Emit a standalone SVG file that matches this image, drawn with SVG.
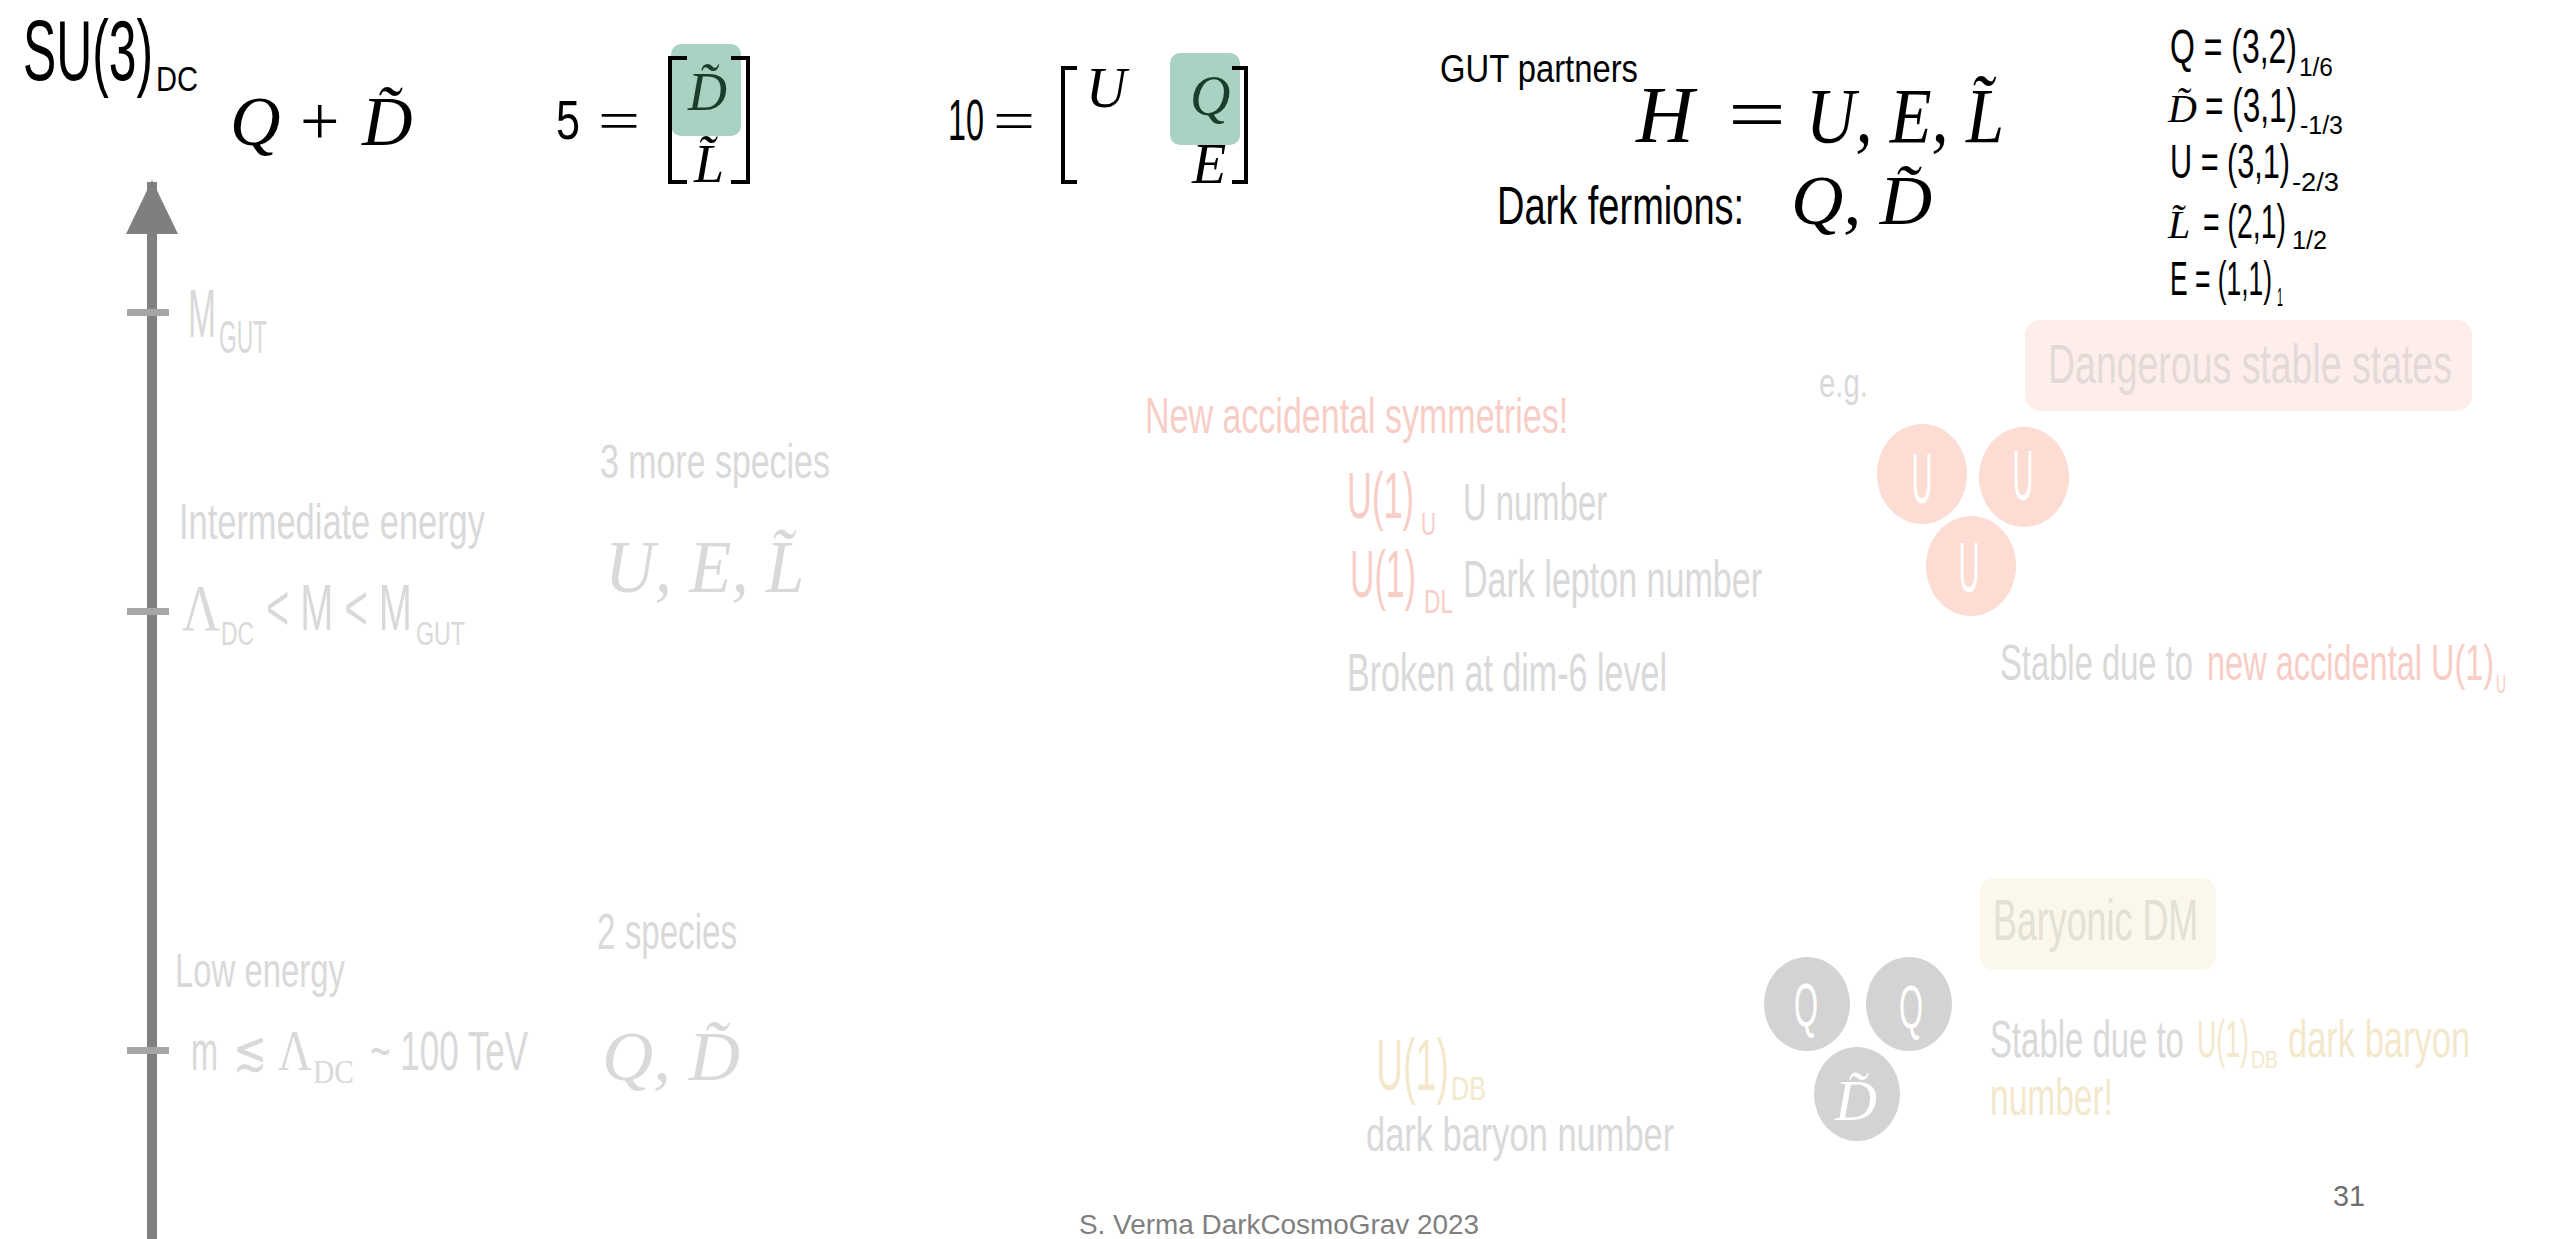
<svg xmlns="http://www.w3.org/2000/svg" width="2560" height="1239" viewBox="0 0 2560 1239">
<style>
.ag{font-family:"Liberation Sans","DejaVu Sans",sans-serif;}
.mi{font-family:"Liberation Serif","DejaVu Serif",serif;font-style:italic;}
.mu{font-family:"Liberation Serif","DejaVu Serif",serif;}
.blk{fill:#000}
.fade{fill:#d9d9d9}
.pink{fill:#f7cdc6}
.cream{fill:#f3e8cb}
.dg{fill:#1b3d2e}
.gbox{fill:#a9d2c3}
.brk{fill:none;stroke:#000;stroke-width:4}
.tick{fill:#a6a6a6}
.pc{fill:#fddcd4}
.gc{fill:#d3d3d3}
.wt{fill:#fff}
</style>
<defs>
<marker id="ah" markerUnits="userSpaceOnUse" markerWidth="54" markerHeight="54" refX="52" refY="26" orient="auto" viewBox="0 0 54 52">
<polygon points="0,0 54,26 0,52" fill="#7f7f7f"/>
</marker>
</defs>
<rect width="2560" height="1239" fill="#fff"/>

<g id="connectors">
<line x1="152" y1="1239" x2="152" y2="182" stroke="#7f7f7f" stroke-width="10" marker-end="url(#ah)"/>
</g>

<g id="title">
<text class="ag blk" transform="translate(23,80) scale(0.579,1)" font-size="86" textLength="224.5" lengthAdjust="spacingAndGlyphs">SU(3)</text>
<text class="ag blk" transform="translate(156,91) scale(0.808,1)" font-size="36" textLength="52" lengthAdjust="spacingAndGlyphs">DC</text>
</g>

<g id="q-plus-d">
<text class="mi blk" x="230" y="145" font-size="70">Q</text>
<text class="mu blk" x="300" y="145" font-size="70">+</text>
<text class="mi blk" x="362" y="145" font-size="70">D&#x303;</text>
</g>

<g id="five-plet">
<text class="ag blk" transform="translate(556,139) scale(0.772,1)" font-size="56" textLength="31.1" lengthAdjust="spacingAndGlyphs">5</text>
<text class="mu blk" transform="translate(598,139) scale(1.38,1)" font-size="54" textLength="30.5" lengthAdjust="spacingAndGlyphs">=</text>
<rect class="gbox" x="671" y="44" width="70" height="92" rx="10"/>
<path class="brk" d="M687,58 H670 V182 H687"/>
<path class="brk" d="M731,58 H748 V182 H731"/>
<text class="mi dg" x="688" y="110" font-size="54">D&#x303;</text>
<text class="mi blk" x="694" y="182" font-size="54">L&#x303;</text>
</g>

<g id="ten-plet">
<text class="ag blk" transform="translate(948,140) scale(0.558,1)" font-size="58" textLength="64.5" lengthAdjust="spacingAndGlyphs">10</text>
<text class="mu blk" transform="translate(993,140) scale(1.33,1)" font-size="56" textLength="31.6" lengthAdjust="spacingAndGlyphs">=</text>
<rect class="gbox" x="1170" y="53" width="70" height="92" rx="10"/>
<path class="brk" d="M1077,68 H1063 V182 H1077"/>
<path class="brk" d="M1232,68 H1246 V182 H1232"/>
<text class="mi blk" x="1086" y="107" font-size="56">U</text>
<text class="mi dg" x="1190" y="115" font-size="56">Q</text>
<text class="mi blk" x="1192" y="183" font-size="56">E</text>
</g>

<g id="gut-partners">
<text class="ag blk" transform="translate(1440,82) scale(0.838,1)" font-size="39" textLength="236.2" lengthAdjust="spacingAndGlyphs">GUT partners</text>
<text class="mi blk" x="1636" y="142" font-size="80">H</text>
<text class="mu blk" transform="translate(1728,140) scale(1.35,1)" font-size="76" textLength="42.9" lengthAdjust="spacingAndGlyphs">=</text>
<text class="mi blk" transform="translate(1806,142) scale(0.88,1)" font-size="78" textLength="225" lengthAdjust="spacingAndGlyphs">U, E, L&#x303;</text>
</g>

<g id="dark-fermions">
<text class="ag blk" transform="translate(1497,224) scale(0.717,1)" font-size="53" textLength="344.6" lengthAdjust="spacingAndGlyphs">Dark fermions:</text>
<text class="mi blk" x="1791" y="224" font-size="70" textLength="141" lengthAdjust="spacingAndGlyphs">Q, D&#x303;</text>
</g>

<g id="charges">
<text class="ag blk" transform="translate(2170,63) scale(0.652,1)" font-size="49" textLength="194.7" lengthAdjust="spacingAndGlyphs">Q = (3,2)</text>
<text class="ag blk" transform="translate(2299,76) scale(0.941,1)" font-size="26" textLength="36.1" lengthAdjust="spacingAndGlyphs">1/6</text>
<text class="mi blk" x="2168" y="122" font-size="40">D&#x303;</text>
<text class="ag blk" transform="translate(2205,122) scale(0.643,1)" font-size="49" textLength="143" lengthAdjust="spacingAndGlyphs">= (3,1)</text>
<text class="ag blk" transform="translate(2300,134) scale(0.96,1)" font-size="26" textLength="44.8" lengthAdjust="spacingAndGlyphs">-1/3</text>
<text class="ag blk" transform="translate(2170,178) scale(0.625,1)" font-size="49" textLength="192" lengthAdjust="spacingAndGlyphs">U = (3,1)</text>
<text class="ag blk" transform="translate(2292,191) scale(1.05,1)" font-size="26" textLength="44.8" lengthAdjust="spacingAndGlyphs">-2/3</text>
<text class="mi blk" x="2168" y="238" font-size="40">L&#x303;</text>
<text class="ag blk" transform="translate(2203,238) scale(0.58,1)" font-size="49" textLength="143" lengthAdjust="spacingAndGlyphs">= (2,1)</text>
<text class="ag blk" transform="translate(2292,249) scale(0.97,1)" font-size="26" textLength="36.1" lengthAdjust="spacingAndGlyphs">1/2</text>
<text class="ag blk" transform="translate(2170,295) scale(0.539,1)" font-size="49" textLength="189.3" lengthAdjust="spacingAndGlyphs">E = (1,1)</text>
<text class="ag blk" transform="translate(2277,306) scale(0.41,1)" font-size="26" textLength="14.5" lengthAdjust="spacingAndGlyphs">1</text>
</g>

<g id="ticks">
<rect class="tick" x="127" y="309" width="42" height="7"/>
<rect class="tick" x="127" y="608" width="42" height="7"/>
<rect class="tick" x="127" y="1047" width="42" height="7"/>
</g>

<g id="m-gut">
<text class="ag fade" transform="translate(188,337) scale(0.495,1)" font-size="68" textLength="56.6" lengthAdjust="spacingAndGlyphs">M</text>
<text class="ag fade" transform="translate(219,353) scale(0.494,1)" font-size="46" textLength="97.1" lengthAdjust="spacingAndGlyphs">GUT</text>
</g>

<g id="intermediate">
<text class="ag fade" transform="translate(179,539) scale(0.688,1)" font-size="50" textLength="444.7" lengthAdjust="spacingAndGlyphs">Intermediate energy</text>
<text class="mu fade" transform="translate(182,630) scale(0.797,1)" font-size="66" textLength="47.7" lengthAdjust="spacingAndGlyphs">Λ</text>
<text class="ag fade" transform="translate(221,645) scale(0.672,1)" font-size="34" textLength="49.1" lengthAdjust="spacingAndGlyphs">DC</text>
<text class="ag fade" transform="translate(266,630) scale(0.622,1)" font-size="64" textLength="234.8" lengthAdjust="spacingAndGlyphs">&lt; M &lt; M</text>
<text class="ag fade" transform="translate(416,645) scale(0.683,1)" font-size="34" textLength="71.8" lengthAdjust="spacingAndGlyphs">GUT</text>
<text class="ag fade" transform="translate(600,478) scale(0.692,1)" font-size="49" textLength="332.2" lengthAdjust="spacingAndGlyphs">3 more species</text>
<text class="mi fade" transform="translate(605,592) scale(0.92,1)" font-size="75" textLength="216.7" lengthAdjust="spacingAndGlyphs">U, E, L&#x303;</text>
</g>

<g id="low-energy">
<text class="ag fade" transform="translate(175,987) scale(0.671,1)" font-size="49" textLength="253.3" lengthAdjust="spacingAndGlyphs">Low energy</text>
<text class="ag fade" transform="translate(191,1070) scale(0.579,1)" font-size="56" textLength="46.6" lengthAdjust="spacingAndGlyphs">m</text>
<text class="mu fade" x="233" y="1070" font-size="56" textLength="34" lengthAdjust="spacingAndGlyphs">≲</text>
<text class="mu fade" transform="translate(278,1070) scale(0.84,1)" font-size="56" textLength="40.4" lengthAdjust="spacingAndGlyphs">Λ</text>
<text class="mu fade" transform="translate(313,1083) scale(0.87,1)" font-size="34" textLength="47.2" lengthAdjust="spacingAndGlyphs">DC</text>
<text class="ag fade" transform="translate(370,1070) scale(0.608,1)" font-size="56" textLength="260" lengthAdjust="spacingAndGlyphs">~ 100 TeV</text>
<text class="ag fade" transform="translate(597,949) scale(0.663,1)" font-size="50" textLength="211.2" lengthAdjust="spacingAndGlyphs">2 species</text>
<text class="mi fade" x="602" y="1080" font-size="70" textLength="138" lengthAdjust="spacingAndGlyphs">Q, D&#x303;</text>
</g>

<g id="symmetries">
<text class="ag pink" transform="translate(1145,433) scale(0.68,1)" font-size="50" textLength="622.4" lengthAdjust="spacingAndGlyphs">New accidental symmetries!</text>
<text class="ag pink" transform="translate(1347,518) scale(0.539,1)" font-size="64" textLength="124.4" lengthAdjust="spacingAndGlyphs">U(1)</text>
<text class="ag pink" transform="translate(1421,535) scale(0.65,1)" font-size="32" textLength="23.1" lengthAdjust="spacingAndGlyphs">U</text>
<text class="ag fade" transform="translate(1463,520) scale(0.631,1)" font-size="52" textLength="228.3" lengthAdjust="spacingAndGlyphs">U number</text>
<text class="ag pink" transform="translate(1350,597) scale(0.514,1)" font-size="66" textLength="128.3" lengthAdjust="spacingAndGlyphs">U(1)</text>
<text class="ag pink" transform="translate(1424,613) scale(0.667,1)" font-size="34" textLength="43.5" lengthAdjust="spacingAndGlyphs">DL</text>
<text class="ag fade" transform="translate(1463,597) scale(0.655,1)" font-size="52" textLength="456.6" lengthAdjust="spacingAndGlyphs">Dark lepton number</text>
<text class="ag fade" transform="translate(1347,691) scale(0.643,1)" font-size="53" textLength="497.8" lengthAdjust="spacingAndGlyphs">Broken at dim-6 level</text>
</g>

<g id="dangerous">
<rect x="2025" y="320" width="447" height="91" rx="15" fill="#fdeeec"/>
<text class="ag" fill="#e5d9d8" transform="translate(2048,383) scale(0.669,1)" font-size="56" textLength="603.8" lengthAdjust="spacingAndGlyphs">Dangerous stable states</text>
</g>

<g id="uuu-state">
<text class="ag fade" transform="translate(1819,397) scale(0.735,1)" font-size="40" textLength="66.7" lengthAdjust="spacingAndGlyphs">e.g.</text>
<ellipse class="pc" cx="1922" cy="474" rx="45" ry="50"/>
<ellipse class="pc" cx="2024" cy="477" rx="45" ry="50"/>
<ellipse class="pc" cx="1971" cy="566" rx="45" ry="50"/>
<text class="ag wt" transform="translate(1922,503) scale(0.416,1)" font-size="70" text-anchor="middle">U</text>
<text class="ag wt" transform="translate(2023,500) scale(0.416,1)" font-size="70" text-anchor="middle">U</text>
<text class="ag wt" transform="translate(1969,592) scale(0.416,1)" font-size="70" text-anchor="middle">U</text>
<text class="ag fade" transform="translate(2000,680) scale(0.657,1)" font-size="50" textLength="293.7" lengthAdjust="spacingAndGlyphs">Stable due to</text>
<text class="ag pink" transform="translate(2207,680) scale(0.65,1)" font-size="50" textLength="441.8" lengthAdjust="spacingAndGlyphs">new accidental U(1)</text>
<text class="ag pink" transform="translate(2496,693) scale(0.554,1)" font-size="25" textLength="18" lengthAdjust="spacingAndGlyphs">U</text>
</g>

<g id="dark-baryon">
<text class="ag cream" transform="translate(1376,1090) scale(0.521,1)" font-size="72" textLength="140" lengthAdjust="spacingAndGlyphs">U(1)</text>
<text class="ag cream" transform="translate(1451,1100) scale(0.74,1)" font-size="34" textLength="47.2" lengthAdjust="spacingAndGlyphs">DB</text>
<text class="ag fade" transform="translate(1366,1151) scale(0.76,1)" font-size="48" textLength="405.5" lengthAdjust="spacingAndGlyphs">dark baryon number</text>
</g>

<g id="baryonic-dm">
<rect x="1980" y="878" width="236" height="92" rx="14" fill="#fbf7ea"/>
<text class="ag" fill="#e3e0d4" transform="translate(1993,940) scale(0.618,1)" font-size="58" textLength="331.9" lengthAdjust="spacingAndGlyphs">Baryonic DM</text>
<ellipse class="gc" cx="1807" cy="1004" rx="43" ry="47"/>
<ellipse class="gc" cx="1909" cy="1004" rx="43" ry="47"/>
<ellipse class="gc" cx="1857" cy="1094" rx="43" ry="47"/>
<text class="ag wt" transform="translate(1806,1026) scale(0.498,1)" font-size="62" text-anchor="middle">Q</text>
<text class="ag wt" transform="translate(1911,1028) scale(0.498,1)" font-size="62" text-anchor="middle">Q</text>
<text class="mi wt" x="1856" y="1120" font-size="58" text-anchor="middle">D&#x303;</text>
<text class="ag fade" transform="translate(1990,1057) scale(0.635,1)" font-size="52" textLength="305.4" lengthAdjust="spacingAndGlyphs">Stable due to</text>
<text class="ag cream" transform="translate(2197,1057) scale(0.514,1)" font-size="52" textLength="101.1" lengthAdjust="spacingAndGlyphs">U(1)</text>
<text class="ag cream" transform="translate(2251,1068) scale(0.81,1)" font-size="24" textLength="33.3" lengthAdjust="spacingAndGlyphs">DB</text>
<text class="ag cream" transform="translate(2288,1057) scale(0.663,1)" font-size="52" textLength="274.6" lengthAdjust="spacingAndGlyphs">dark baryon</text>
<text class="ag cream" transform="translate(1990,1115) scale(0.645,1)" font-size="52" textLength="190.7" lengthAdjust="spacingAndGlyphs">number!</text>
</g>

<g id="footer">
<text class="ag" fill="#7f7f7f" x="1079" y="1234" font-size="27" textLength="400" lengthAdjust="spacingAndGlyphs">S. Verma DarkCosmoGrav 2023</text>
<text class="ag" fill="#6f6f6f" x="2333" y="1206" font-size="30" textLength="32" lengthAdjust="spacingAndGlyphs">31</text>
</g>
</svg>
